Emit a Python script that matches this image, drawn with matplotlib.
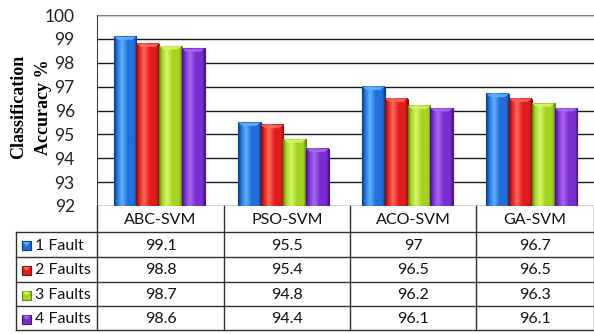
import numpy as np
import matplotlib.pyplot as plt
from matplotlib.colors import LinearSegmentedColormap
from matplotlib.patches import Polygon, Rectangle

# Accuracy for each method under 1-4 faults
methods = ['ABC-SVM', 'PSO-SVM', 'ACO-SVM', 'GA-SVM']
series_names = ['1 Fault', '2 Faults', '3 Faults', '4 Faults']
fault1 = [99.1, 95.5, 97, 96.7]
fault2 = [98.8, 95.4, 96.5, 96.5]
fault3 = [98.7, 94.8, 96.2, 96.3]
fault4 = [98.6, 94.4, 96.1, 96.1]
series = [fault1, fault2, fault3, fault4]
value_labels = [['99.1', '95.5', '97', '96.7'],
                ['98.8', '95.4', '96.5', '96.5'],
                ['98.7', '94.8', '96.2', '96.3'],
                ['98.6', '94.4', '96.1', '96.1']]

# dark edge, mid, highlight for each series
shades = [('#0b3c8c', '#1f70dc', '#62b0fa'),
          ('#8c0b0b', '#e01c1c', '#ff6a5c'),
          ('#5f8a0c', '#a4d41e', '#d6f56a'),
          ('#45128c', '#7a2ed0', '#a868f2')]

W, H = 594, 334
fig = plt.figure(figsize=(W / 100, H / 100), dpi=100)
x0, x1, ytop, ybot = 97, 594, 15, 206
ax = fig.add_axes([x0 / W, 1 - ybot / H, (x1 - x0) / W, (ybot - ytop) / H])

ymin, ymax = 92, 100
ax.set_xlim(-0.5, len(methods) - 0.5)
ax.set_ylim(ymin, ymax)
ax.set_yticks(range(92, 101))
ax.set_xticks([])
ax.tick_params(axis='y', length=0, pad=16, labelsize=12.5, labelcolor='#222222')
for lbl in ax.get_yticklabels():
    lbl.set_family('Lato')
ax.grid(axis='y', color='#1a1a1a', linewidth=1.0)
ax.set_axisbelow(True)
for side in ['top', 'right', 'bottom']:
    ax.spines[side].set_visible(False)
ax.spines['left'].set_color('#404040')
ax.axhline(100, color='#808080', linewidth=1.5, zorder=1)

bw = 0.183
x = np.arange(len(methods))
grad = np.linspace(0, 1, 64)
for i, vals in enumerate(series):
    dark, mid, light = shades[i]
    cmap = LinearSegmentedColormap.from_list(
        's%d' % i, [(0, dark), (0.12, mid), (0.35, light), (0.6, mid), (0.9, mid), (1, dark)])
    for j, v in enumerate(vals):
        left = x[j] + (i - 2) * bw
        ax.imshow(grad[None, :], cmap=cmap, aspect='auto',
                  extent=(left, left + bw, ymin, v), zorder=2, interpolation='bicubic')
        ax.add_patch(Rectangle((left, ymin), bw, v - ymin, fill=False,
                               edgecolor=dark, linewidth=0.8, zorder=3))
        # bevelled cap on top of the bar
        cap = 0.14
        ax.add_patch(Polygon([(left, v), (left + bw, v), (left + bw * 0.8, v - cap),
                              (left + bw * 0.2, v - cap)], closed=True,
                             facecolor=light, edgecolor='none', alpha=0.9, zorder=4))

# data table underneath
tab = fig.add_axes([0, 0, 1, 1])
tab.set_xlim(0, W)
tab.set_ylim(H, 0)
tab.axis('off')
col_edges = [97, 224, 350, 476, 594]
row_edges = [206, 232, 257, 282, 306, 330]
line_kw = dict(color='#303030', linewidth=1.0)
for yy in row_edges[1:]:
    tab.plot([16, 594], [yy, yy], **line_kw)
for xx in col_edges:
    tab.plot([xx, xx], [206, 330], **line_kw)
tab.plot([16, 16], [232, 330], **line_kw)

txt_kw = dict(family='Lato', fontsize=11.5, ha='center', va='center', color='#111111')
for j, m in enumerate(methods):
    cx = (col_edges[j] + col_edges[j + 1]) / 2
    tab.text(cx, (row_edges[0] + row_edges[1]) / 2 + 1, m, **txt_kw)
for i, name in enumerate(series_names):
    cy = (row_edges[i + 1] + row_edges[i + 2]) / 2 + 1
    dark, mid, light = shades[i]
    tab.add_patch(Rectangle((22, cy - 4.5), 9, 9, facecolor=mid, edgecolor=dark, linewidth=0.8))
    tab.add_patch(Polygon([(23, cy - 3.5), (30, cy - 3.5), (26.5, cy + 0.5)],
                          facecolor=light, edgecolor='none'))
    tab.text(35, cy, name, family='Lato', fontsize=11.5, ha='left', va='center', color='#111111')
    for j in range(len(methods)):
        cx = (col_edges[j] + col_edges[j + 1]) / 2
        tab.text(cx, cy, value_labels[i][j], **txt_kw)

fig.text(31 / W, 1 - 107 / H, 'Classification\nAccuracy %', rotation=90, ha='center',
         va='center', family='Liberation Serif', fontweight='bold', fontsize=13,
         linespacing=1.55)

fig.savefig('out.png', dpi=100)
